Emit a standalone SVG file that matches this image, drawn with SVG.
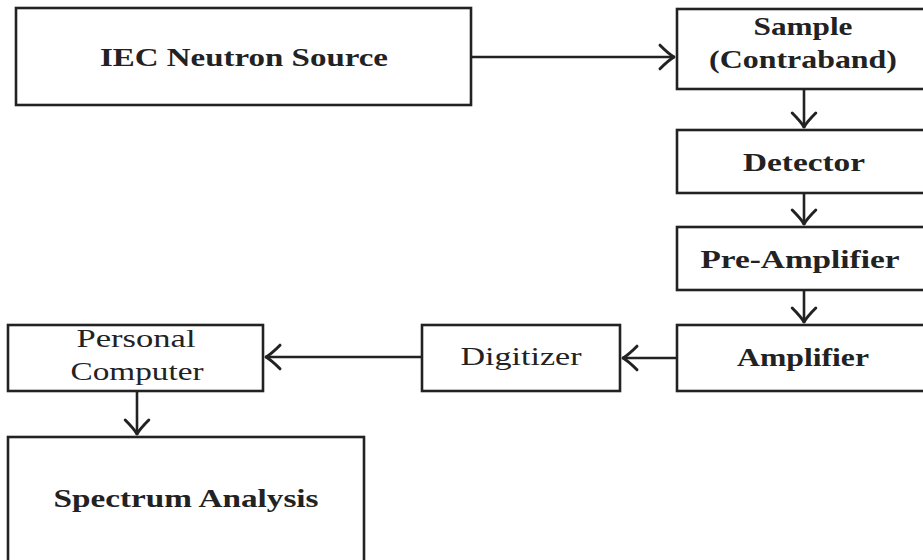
<svg xmlns="http://www.w3.org/2000/svg" width="923" height="560" viewBox="0 0 923 560">
<style>
.box{fill:#fff;stroke:#222;stroke-width:2.6}
.t{font-family:"Liberation Serif","DejaVu Serif",serif;font-size:26px;font-weight:bold;fill:#222;text-anchor:middle}
.r{font-weight:normal}
.c{fill:none;stroke:#222;stroke-width:2.6}
</style>
<defs>
<marker id="ah" markerUnits="userSpaceOnUse" markerWidth="30" markerHeight="30" refX="1" refY="0" viewBox="-16 -14 20 28" orient="auto" overflow="visible">
<path d="M-13,-11 Q-5,-3 0,0 Q-5,3 -13,11" fill="none" stroke="#222" stroke-width="2.8" stroke-linecap="round" stroke-linejoin="round"/>
</marker>
</defs>
<rect width="923" height="560" fill="#fff"/>
<g id="connectors">
<line class="c" x1="471" y1="57" x2="675" y2="57" marker-end="url(#ah)"/>
<line class="c" x1="804" y1="89" x2="804" y2="128" marker-end="url(#ah)"/>
<line class="c" x1="804" y1="193" x2="804" y2="225" marker-end="url(#ah)"/>
<line class="c" x1="804" y1="290" x2="804" y2="323" marker-end="url(#ah)"/>
<line class="c" x1="677" y1="358" x2="622" y2="358" marker-end="url(#ah)"/>
<line class="c" x1="422" y1="357" x2="265" y2="357" marker-end="url(#ah)"/>
<line class="c" x1="137" y1="391" x2="137" y2="435" marker-end="url(#ah)"/>
</g>
<g id="iec">
<rect class="box" x="16" y="8" width="455" height="97"/>
<text class="t" x="244" y="66" textLength="288" lengthAdjust="spacingAndGlyphs">IEC Neutron Source</text>
</g>
<g id="sample">
<rect class="box" x="677" y="9" width="260" height="80"/>
<text class="t" x="803" y="35" textLength="99" lengthAdjust="spacingAndGlyphs">Sample</text>
<text class="t" x="803" y="68" textLength="188" lengthAdjust="spacingAndGlyphs">(Contraband)</text>
</g>
<g id="detector">
<rect class="box" x="677" y="130" width="260" height="63"/>
<text class="t" x="804" y="171" textLength="122" lengthAdjust="spacingAndGlyphs">Detector</text>
</g>
<g id="preamp">
<rect class="box" x="677" y="227" width="260" height="63"/>
<text class="t" x="800" y="268" textLength="199" lengthAdjust="spacingAndGlyphs">Pre-Amplifier</text>
</g>
<g id="amplifier">
<rect class="box" x="677" y="325" width="260" height="66"/>
<text class="t" x="803" y="366" textLength="132" lengthAdjust="spacingAndGlyphs">Amplifier</text>
</g>
<g id="digitizer">
<rect class="box" x="422" y="325" width="198" height="66"/>
<text class="t r" x="521" y="365" textLength="121" lengthAdjust="spacingAndGlyphs">Digitizer</text>
</g>
<g id="pc">
<rect class="box" x="8" y="325" width="255" height="66"/>
<text class="t r" x="136" y="347" textLength="119" lengthAdjust="spacingAndGlyphs">Personal</text>
<text class="t r" x="137" y="380" textLength="133" lengthAdjust="spacingAndGlyphs">Computer</text>
</g>
<g id="spectrum">
<rect class="box" x="8" y="437" width="356" height="135"/>
<text class="t" x="186" y="507" textLength="265" lengthAdjust="spacingAndGlyphs">Spectrum Analysis</text>
</g>
</svg>
